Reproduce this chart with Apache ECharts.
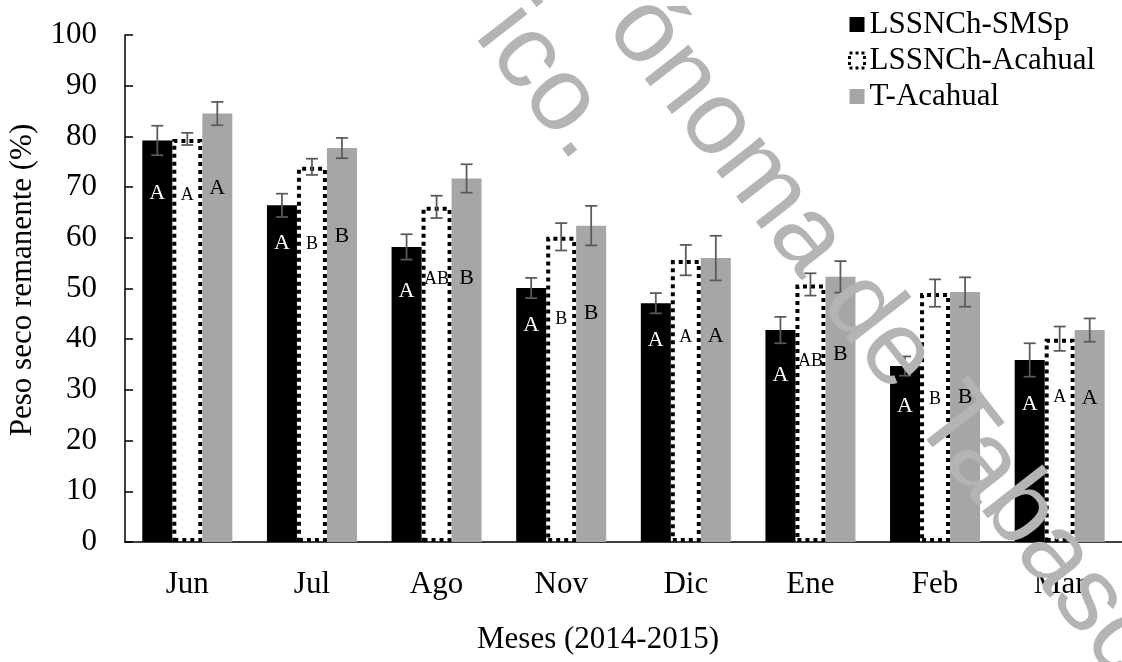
<!DOCTYPE html>
<html>
<head>
<meta charset="utf-8">
<script src="https://cdn.jsdelivr.net/npm/echarts@6/dist/echarts.min.js"></script>
<style>
  html, body { margin: 0; padding: 0; background: #fff; }
  #chart { width: 1122px; height: 662px; }
</style>
</head>
<body>
<div id="chart"></div>
<script>
// Months of the sampling period
const categories = ['Jun', 'Jul', 'Ago', 'Nov', 'Dic', 'Ene', 'Feb', 'Mar'];

// Remaining dry weight (%) and standard error per treatment
const smsp = [79.2, 66.4, 58.2, 50.1, 47.1, 41.8, 34.7, 35.9];
const smspErr = [2.9, 2.3, 2.5, 2.0, 2.0, 2.6, 1.9, 3.3];
const acahual = [79.5, 74.0, 66.1, 60.2, 55.6, 50.8, 49.1, 40.1];
const acahualErr = [1.2, 1.6, 2.2, 2.7, 3.0, 2.2, 2.7, 2.4];
const tAcahual = [84.5, 77.7, 71.7, 62.4, 56.0, 52.3, 49.3, 41.8];
const tAcahualErr = [2.3, 2.0, 2.8, 3.9, 4.4, 3.1, 2.9, 2.3];

// Significance letters (Tukey groups) for each treatment
const smspLetters = ['A', 'A', 'A', 'A', 'A', 'A', 'A', 'A'];
const acahualLetters = ['A', 'B', 'AB', 'B', 'A', 'AB', 'B', 'A'];
const tAcahualLetters = ['A', 'B', 'B', 'B', 'A', 'B', 'B', 'A'];
// Level (in % units) where each letter sits
const smspLetterAt = [68.8, 59.0, 49.4, 42.8, 39.8, 32.9, 26.8, 27.2];
const acahualLetterAt = [68.4, 58.8, 51.8, 43.9, 40.4, 35.6, 28.1, 28.5];
const tAcahualLetterAt = [69.8, 60.4, 52.0, 45.1, 40.6, 37.1, 28.5, 28.3];

// Y axis ticks
const yMin = 0, yMax = 100, yStep = 10;

const SERIF = '"Liberation Serif", "Times New Roman", serif';
const FONT_SIZE = 31;
const BAR_W = 30;
const OFFSETS = [-BAR_W, 0, BAR_W];

function errorSeries(values, errs, offset) {
  return {
    type: 'custom',
    silent: true,
    z: 5,
    data: values.map((v, i) => [i, v, errs[i]]),
    encode: { x: 0, y: 1 },
    renderItem: function (params, api) {
      const i = api.value(0), v = api.value(1), e = api.value(2);
      const top = api.coord([i, v + e]);
      const bot = api.coord([i, v - e]);
      const x = top[0] + offset;
      const cap = 6;
      const st = { stroke: '#595959', lineWidth: 1.75 };
      return {
        type: 'group',
        children: [
          { type: 'line', shape: { x1: x, y1: top[1], x2: x, y2: bot[1] }, style: st },
          { type: 'line', shape: { x1: x - cap, y1: top[1], x2: x + cap, y2: top[1] }, style: st },
          { type: 'line', shape: { x1: x - cap, y1: bot[1], x2: x + cap, y2: bot[1] }, style: st }
        ]
      };
    }
  };
}

function letterSeries(levels, letters, offset, color, size) {
  return {
    type: 'custom',
    silent: true,
    z: 6,
    data: levels.map((v, i) => [i, v]),
    encode: { x: 0, y: 1 },
    renderItem: function (params, api) {
      const p = api.coord([api.value(0), api.value(1)]);
      return {
        type: 'text',
        x: p[0] + offset,
        y: p[1],
        style: {
          text: letters[params.dataIndex],
          fill: color,
          font: size + 'px ' + SERIF,
          align: 'center',
          verticalAlign: 'middle'
        }
      };
    }
  };
}

const chart = echarts.init(document.getElementById('chart'), null, { renderer: 'canvas' });

const watermarkAngle = -52 * Math.PI / 180;
const dottedStyle = { color: '#ffffff', borderColor: '#000000', borderWidth: 4, borderType: [4, 4] };

chart.setOption({
  animation: false,
  backgroundColor: '#ffffff',
  grid: { left: 125, right: -14, top: 35, bottom: 120, containLabel: false },
  legend: {
    orient: 'vertical',
    left: 843,
    top: 2,
    itemWidth: 15,
    itemHeight: 15,
    itemGap: 1,
    icon: 'rect',
    selectedMode: false,
    textStyle: { fontFamily: SERIF, fontSize: FONT_SIZE, color: '#000', lineHeight: 35 },
    data: [
      { name: 'LSSNCh-SMSp' },
      { name: 'LSSNCh-Acahual', itemStyle: { color: '#ffffff', borderColor: '#000000', borderWidth: 3, borderType: [3, 3] } },
      { name: 'T-Acahual' }
    ]
  },
  xAxis: {
    type: 'category',
    data: categories,
    axisLine: { show: true, lineStyle: { color: '#000', width: 1.5 } },
    axisTick: { show: false },
    axisLabel: { fontFamily: SERIF, fontSize: FONT_SIZE, color: '#000', margin: 27 },
    splitLine: { show: false }
  },
  yAxis: {
    type: 'value',
    min: yMin,
    max: yMax,
    interval: yStep,
    axisLine: { show: true, lineStyle: { color: '#000', width: 1.5 } },
    axisTick: { show: true, inside: true, length: 8, lineStyle: { color: '#000', width: 1.5 } },
    axisLabel: { fontFamily: SERIF, fontSize: FONT_SIZE, color: '#000', margin: 28 },
    splitLine: { show: false }
  },
  series: [
    {
      name: 'LSSNCh-SMSp',
      type: 'bar',
      data: smsp,
      barWidth: BAR_W,
      barGap: '0%',
      itemStyle: { color: '#000000' }
    },
    {
      name: 'LSSNCh-Acahual',
      type: 'bar',
      data: acahual,
      barWidth: BAR_W,
      barGap: '0%',
      itemStyle: dottedStyle
    },
    {
      name: 'T-Acahual',
      type: 'bar',
      data: tAcahual,
      barWidth: BAR_W,
      barGap: '0%',
      itemStyle: { color: '#a6a6a6' }
    },
    errorSeries(smsp, smspErr, OFFSETS[0]),
    errorSeries(acahual, acahualErr, OFFSETS[1]),
    errorSeries(tAcahual, tAcahualErr, OFFSETS[2]),
    letterSeries(smspLetterAt, smspLetters, OFFSETS[0], '#ffffff', 22),
    letterSeries(acahualLetterAt, acahualLetters, OFFSETS[1], '#000000', 18),
    letterSeries(tAcahualLetterAt, tAcahualLetters, OFFSETS[2], '#000000', 22)
  ],
  graphic: [
    {
      type: 'text',
      x: 598, y: 640,
      silent: true,
      style: { text: 'Meses (2014-2015)', font: FONT_SIZE + 'px ' + SERIF, fill: '#000', align: 'center', verticalAlign: 'middle' }
    },
    {
      type: 'text',
      x: 23, y: 280,
      rotation: Math.PI / 2,
      silent: true,
      style: { text: 'Peso seco remanente (%)', font: FONT_SIZE + 'px ' + SERIF, fill: '#000', align: 'center', verticalAlign: 'middle' }
    },
    {
      type: 'text',
      x: 627, y: 9.5,
      rotation: watermarkAngle,
      silent: true,
      z: 100,
      style: { text: 'ónoma de Tabasco', font: '105px "Liberation Sans", Arial, sans-serif', fill: '#b4b4b4', align: 'left', verticalAlign: 'middle', blend: 'multiply' }
    },
    {
      type: 'text',
      x: 597, y: 146.5,
      rotation: watermarkAngle,
      silent: true,
      z: 100,
      style: { text: 'ico.', font: '105px "Liberation Sans", Arial, sans-serif', fill: '#b4b4b4', align: 'right', verticalAlign: 'middle', blend: 'multiply' }
    }
  ]
});
</script>
</body>
</html>
